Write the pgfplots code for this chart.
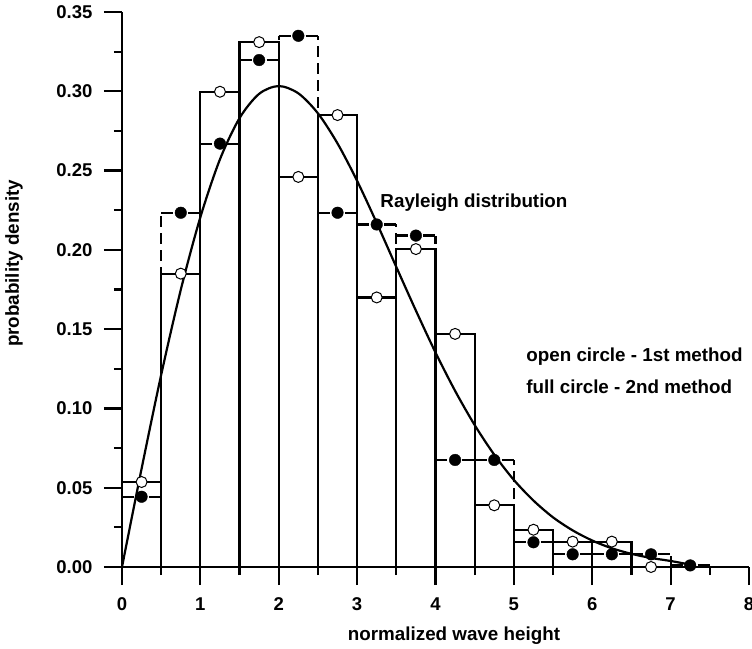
\documentclass[border=0pt]{standalone}
\usepackage{pgfplots}
\pgfplotsset{compat=1.18}
\usepackage{fontspec}
\setmainfont{Liberation Sans}
\begin{document}
\begin{tikzpicture}
\begin{axis}[
  scale only axis, width=627pt, height=555pt,
  xmin=0, xmax=8, ymin=0, ymax=0.35,
  axis x line*=bottom, axis y line*=left,
  axis line style={line width=2.2pt},
  tick align=outside,
  major tick length=18pt, minor tick length=8pt,
  every tick/.style={line width=2.2pt, black},
  xtick={0,1,2,3,4,5,6,7,8},
  minor xtick={0.5,1.5,2.5,3.5,4.5,5.5,6.5,7.5},
  ytick={0,0.05,0.1,0.15,0.2,0.25,0.3,0.35},
  minor ytick={0.025,0.075,0.125,0.175,0.225,0.275,0.325},
  /pgf/number format/assume math mode=true,
  tick label style={font=\bfseries\fontsize{18.5}{21}\selectfont},
  xticklabel style={yshift=-9pt},
  yticklabel style={xshift=-8pt, /pgf/number format/.cd, fixed, fixed zerofill, precision=2},
  xlabel={normalized wave height},
  ylabel={probability density},
  label style={font=\bfseries\fontsize{18.8}{21}\selectfont},
  xlabel style={at={(axis description cs:0.5295,-0.1333)}, anchor=base},
  ylabel style={at={(axis description cs:-0.1643,0.547)}, anchor=base},
  clip=false,
]
% dashed histogram (2nd method): bin tops
\addplot[line width=2.2pt, dash pattern=on 12pt off 15pt, unbounded coords=jump] coordinates {
  (0,0.0443)(0.5,0.0443) (0.5,nan)
  (0.5,0.2234)(1,0.2234) (1,nan)
  (1,0.267)(1.5,0.267) (1.5,nan)
  (1.5,0.3197)(2,0.3197) (2,nan)
  (2,0.335)(2.5,0.335) (2.5,nan)
  (2.5,0.2234)(3,0.2234) (3,nan)
  (3,0.216)(3.5,0.216) (3.5,nan)
  (3.5,0.209)(4,0.209) (4,nan)
  (4,0.0675)(4.5,0.0675) (4.5,nan)
  (4.5,0.0675)(5,0.0675) (5,nan)
  (5,0.0156)(5.5,0.0156) (5.5,nan)
  (5.5,0.008)(6,0.008) (6,nan)
  (6,0.008)(6.5,0.008) (6.5,nan)
  (6.5,0.008)(7,0.008) (7,nan)
  (7,0.001)(7.5,0.001)
};
% dashed histogram (2nd method): bin edges
\addplot[line width=2.2pt, dash pattern=on 11pt off 6pt, unbounded coords=jump] coordinates {
  (0.5,0)(0.5,0.2234) (0.5,nan)
  (1,0)(1,0.267) (1,nan)
  (1.5,0)(1.5,0.3197) (1.5,nan)
  (2,0)(2,0.335) (2,nan)
  (2.5,0)(2.5,0.335) (2.5,nan)
  (3,0)(3,0.2234) (3,nan)
  (3.5,0)(3.5,0.216) (3.5,nan)
  (4,0)(4,0.209) (4,nan)
  (4.5,0)(4.5,0.0675) (4.5,nan)
  (5,0)(5,0.0675) (5,nan)
  (5.5,0)(5.5,0.0156) (5.5,nan)
  (6,0)(6,0.008) (6,nan)
  (6.5,0)(6.5,0.008) (6.5,nan)
  (7,0)(7,0.008)
};
% solid histogram (1st method)
\addplot[ybar interval, line width=2.2pt, draw=black, fill=none] coordinates {
  (0,0.0536)(0.5,0.185)(1,0.2997)(1.5,0.331)(2,0.246)(2.5,0.285)(3,0.170)
  (3.5,0.2005)(4,0.147)(4.5,0.0389)(5,0.0235)(5.5,0.016)(6,0.016)(6.5,0)(7,0)
};
% Rayleigh distribution
\addplot[smooth, line width=2.2pt, black] coordinates {
  (0,0)(0.25,0.0620)(0.5,0.1212)(0.75,0.1748)(1,0.2206)(1.25,0.2571)(1.5,0.2831)
  (1.75,0.2984)(2,0.3033)(2.25,0.2987)(2.5,0.2861)(2.75,0.2671)(3,0.2435)
  (3.25,0.2170)(3.5,0.1892)(3.75,0.1617)(4,0.1353)(4.25,0.1111)(4.5,0.0895)
  (4.75,0.0708)(5,0.0549)(5.25,0.0419)(5.5,0.0313)(5.75,0.0231)(6,0.0167)
  (6.25,0.0118)(6.5,0.0083)(6.75,0.0057)(7,0.0038)(7.25,0.0015)
};
% open circles (1st method)
\addplot[only marks, mark=*, mark size=5.5pt, mark options={fill=white, draw=black, line width=1pt}] coordinates {
  (0.25,0.0536)(0.75,0.185)(1.25,0.2997)(1.75,0.331)(2.25,0.246)(2.75,0.285)(3.25,0.170)
  (3.75,0.2005)(4.25,0.147)(4.75,0.0389)(5.25,0.0235)(5.75,0.016)(6.25,0.016)(6.75,0)
};
% full circles (2nd method)
\addplot[only marks, mark=*, mark size=5.8pt, mark options={fill=black, draw=black}] coordinates {
  (0.25,0.0443)(0.75,0.2234)(1.25,0.267)(1.75,0.3197)(2.25,0.335)(2.75,0.2234)(3.25,0.216)
  (3.75,0.209)(4.25,0.0675)(4.75,0.0675)(5.25,0.0156)(5.75,0.008)(6.25,0.008)(6.75,0.008)(7.25,0.001)
};
\node[anchor=base west, font=\bfseries\fontsize{18.8}{21}\selectfont] at (axis cs:3.253,0.227) {Rayleigh distribution};
\node[anchor=base west, font=\bfseries\fontsize{18.8}{21}\selectfont] at (axis cs:5.115,0.1293) {open circle - 1st method};
\node[anchor=base west, font=\bfseries\fontsize{18.8}{21}\selectfont] at (axis cs:5.115,0.1097) {full circle - 2nd method};
\end{axis}
\pgfresetboundingbox
\path[use as bounding box] (-122pt,-81pt) rectangle (630pt,567pt);
\end{tikzpicture}
\end{document}
